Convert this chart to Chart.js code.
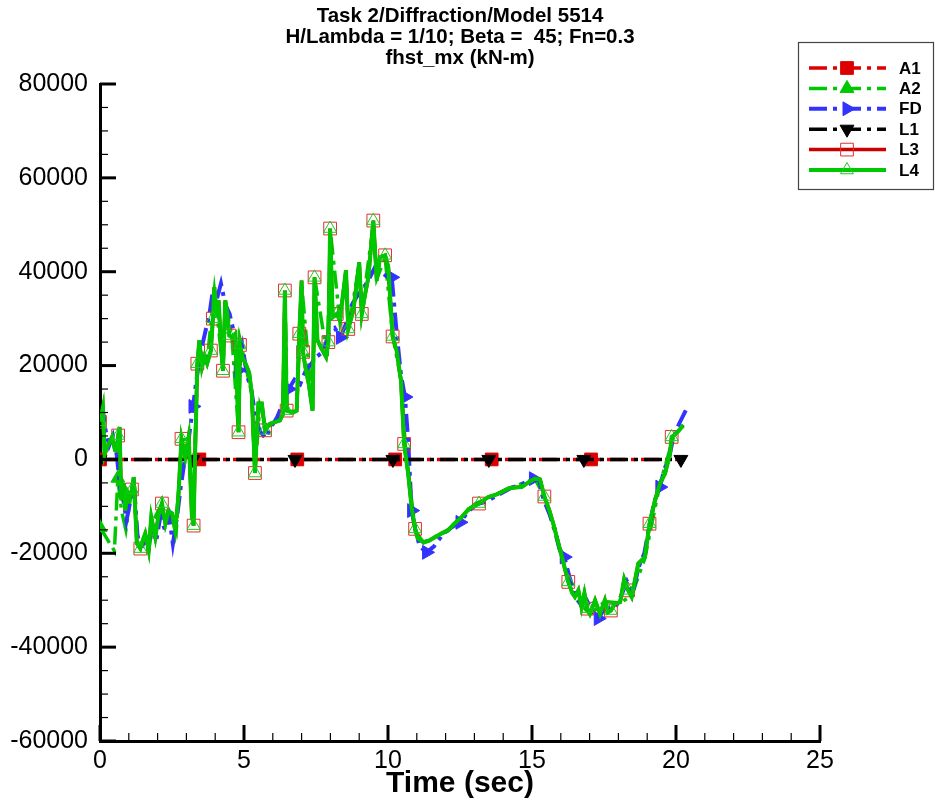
<!DOCTYPE html>
<html>
<head>
<meta charset="utf-8">
<script src="https://cdn.jsdelivr.net/npm/chart.js"></script>
<style>
  html, body { margin: 0; padding: 0; background: #fff; }
  #wrap { width: 935px; height: 805px; position: relative; }
</style>
</head>
<body>
<div id="wrap"><canvas id="chart"></canvas></div>
<script>
// fhst_mx (kN-m) vs time (sec)

const TITLE_LINES = ['Task 2/Diffraction/Model 5514', 'H/Lambda = 1/10; Beta =  45; Fn=0.3', 'fhst_mx (kN-m)']
const X_TITLE = 'Time (sec)'

const A1_T = [0, 3.45, 6.85, 10.25, 13.6, 17.05, 20.15]
const A1_V = [0, 0, 0, 0, 0, 0, 0]
const A1_MARKS = [0, 3.45, 6.85, 10.25, 13.6, 17.05]

const L1_T = [0, 3.23, 6.77, 10.17, 13.5, 16.8, 20.17]
const L1_V = [0, 0, 0, 0, 0, 0, 0]
const L1_MARKS = [0, 3.23, 6.77, 10.17, 13.5, 16.8, 20.17]

const A2_T = [0, 0.25, 0.5, 0.62, 0.75, 0.9, 1.05, 1.2, 1.3, 1.45, 1.7, 1.85, 2.15, 2.5, 2.65, 2.83, 3.08, 3.22, 3.38, 3.72,
  3.97, 4.27, 4.35, 4.58, 4.81, 4.88, 5.27, 5.38, 5.55, 5.8, 6.35, 6.42, 6.5, 6.83, 7.0, 7.38, 7.47, 7.89, 8.01, 8.33,
  8.54, 8.62, 9.0, 9.09, 9.49, 9.61, 9.9, 10.16, 10.45, 10.6, 10.94, 11.23, 12.09, 13.02, 14.18, 15.1, 15.45, 16.03, 16.49, 17.01,
  17.53, 18.06, 18.46, 18.92, 19.44, 19.91, 20.25]
const A2_V = [-14500, -17000, -19500, -4000, -11000, -15000, -8500, -5000, -18000, -19000, -19000, -13000, -9500, -12000, -15000, 4000, 4500, -13500, 20000, 21000,
  36000, 19500, 33500, 26000, 6000, 25000, 14000, -2500, 11500, 6500, 9500, 35500, 10000, 10500, 37500, 10800, 38000, 22000, 48000, 29500,
  40000, 27500, 41500, 31500, 50000, 38500, 43000, 26500, 17000, 3000, -15000, -17800, -15000, -9500, -6200, -4100, -8200, -20800, -29500, -33000,
  -30300, -30600, -29000, -21000, -5300, 4700, 7400]
const A2_MARKS = [0, 0.62]

const FD_T = [0, 0.1, 0.2, 0.32, 0.45, 0.58, 0.7, 0.82, 0.92, 1.05, 1.18, 1.3, 1.42, 1.55, 1.7, 1.82, 1.95, 2.1, 2.25, 2.4,
  2.53, 2.68, 2.8, 2.92, 3.05, 3.23, 3.35, 3.5, 3.65, 3.8, 3.92, 4.05, 4.2, 4.35, 4.5, 4.65, 4.8, 4.95, 5.1, 5.25,
  5.4, 5.55, 5.75, 5.95, 6.15, 6.35, 6.55, 6.75, 6.95, 7.15, 7.35, 7.55, 7.75, 7.95, 8.15, 8.35, 8.55, 8.75, 8.95, 9.15,
  9.35, 9.55, 9.75, 9.95, 10.13, 10.3, 10.45, 10.59, 10.7, 10.82, 10.95, 11.1, 11.34, 11.6, 11.9, 12.2, 12.5, 12.8, 13.1, 13.4,
  13.7, 14.0, 14.3, 14.6, 14.85, 15.05, 15.25, 15.4, 15.6, 15.8, 15.95, 16.12, 16.3, 16.5, 16.7, 16.9, 17.1, 17.3, 17.5, 17.7,
  17.9, 18.1, 18.3, 18.5, 18.7, 18.9, 19.05, 19.25, 19.44, 19.6, 19.75, 19.9, 20.1, 20.35]
const FD_V = [9500, 10500, 6000, 3000, 5000, 1000, -6000, -9000, -13000, -9000, -6000, -16000, -19500, -17000, -18500, -14000, -17500, -12000, -15000, -12000,
  -18000, -12000, -6000, -1000, 3000, 11300, 17000, 23000, 27000, 31000, 36000, 34000, 37500, 33000, 31000, 27000, 19000, 24000, 18000, 15000,
  9000, 6000, 4500, 7000, 9000, 12000, 15000, 17000, 16000, 19000, 20500, 22000, 23000, 27000, 28000, 26000, 29000, 33000, 35000, 36500,
  38500, 41000, 40000, 39000, 38800, 27000, 18000, 13300, 4000, -10900, -15000, -18500, -19800, -18500, -16000, -14500, -13400, -11000, -9500, -9000,
  -8000, -7000, -6000, -5500, -4500, -4100, -4500, -8500, -11500, -15000, -19000, -20800, -25000, -29000, -31000, -30000, -32500, -33900, -32000, -31500,
  -31500, -29000, -26000, -28500, -23000, -20000, -15000, -9000, -5900, -2000, 0, 4500, 7500, 10600]
const FD_MARKS = [3.23, 4.8, 6.55, 8.35, 10.13, 10.59, 10.82, 11.34, 12.5, 15.05, 16.12, 17.3, 19.44]

const L4_T = [0, 0.1, 0.16, 0.24, 0.32, 0.42, 0.52, 0.58, 0.63, 0.68, 0.74, 0.82, 0.88, 0.96, 1.04, 1.11, 1.17, 1.28, 1.4, 1.5,
  1.57, 1.69, 1.78, 1.92, 2.03, 2.15, 2.27, 2.38, 2.5, 2.61, 2.72, 2.83, 2.96, 3.08, 3.19, 3.25, 3.3, 3.38, 3.45, 3.54,
  3.63, 3.72, 3.85, 3.92, 3.97, 4.06, 4.12, 4.2, 4.27, 4.35, 4.42, 4.49, 4.58, 4.7, 4.81, 4.86, 4.94, 5.05, 5.18, 5.27,
  5.38, 5.5, 5.62, 5.73, 5.9, 6.1, 6.25, 6.35, 6.42, 6.48, 6.7, 6.83, 6.92, 7.0, 7.05, 7.12, 7.25, 7.38, 7.45, 7.55,
  7.7, 7.85, 7.93, 7.99, 8.08, 8.22, 8.33, 8.54, 8.62, 8.8, 9.0, 9.09, 9.2, 9.32, 9.49, 9.61, 9.72, 9.9, 10.01, 10.16,
  10.3, 10.45, 10.56, 10.7, 10.82, 10.94, 11.03, 11.23, 11.4, 11.63, 11.85, 12.09, 12.3, 12.56, 12.8, 13.02, 13.16, 13.48, 13.8, 14.18,
  14.4, 14.64, 14.9, 15.1, 15.28, 15.43, 15.6, 15.74, 15.9, 16.03, 16.15, 16.26, 16.4, 16.49, 16.61, 16.72, 16.82, 16.92, 17.01, 17.19,
  17.36, 17.53, 17.63, 17.74, 17.88, 18.06, 18.2, 18.34, 18.46, 18.69, 18.92, 19.08, 19.27, 19.44, 19.62, 19.79, 19.85, 19.95, 20.1, 20.25]
const L4_V = [8000, 11000, 1000, 2500, 3500, 4800, 2000, 1900, 5100, 6900, -8700, -5100, -10900, -7000, -8000, -6400, -3800, -17900, -19000, -17000,
  -15800, -19400, -12300, -16600, -12000, -9400, -13700, -11000, -11500, -15100, -8000, 4400, 500, 4800, -12000, -14100, 500, 20400, 25400, 19700,
  22000, 20400, 23200, 30000, 36700, 30300, 33900, 24000, 18900, 33900, 31000, 26400, 26100, 26800, 5800, 24400, 21800, 20500, 18500, 14000,
  -2900, 11900, 11900, 6200, 7600, 8000, 8300, 9700, 36000, 10400, 10000, 10400, 26800, 38100, 22900, 20000, 16000, 10400, 38800, 25400,
  23500, 21800, 25000, 49200, 30300, 31000, 29600, 40300, 27800, 31800, 42000, 31000, 35000, 38800, 50900, 38100, 43100, 43500, 41000, 26200,
  23200, 16800, 3300, -3000, -10200, -14800, -16800, -17600, -17400, -16600, -15800, -15100, -13700, -12300, -10600, -9800, -9400, -8000, -7400, -6200,
  -6000, -5900, -4800, -4100, -4300, -7900, -10800, -13700, -17500, -20500, -23500, -26100, -28500, -29300, -27900, -31500, -28500, -31800, -32900, -30000,
  -32900, -30000, -32600, -32200, -30700, -30400, -25500, -27900, -29300, -22200, -20800, -13700, -8700, -5200, -3000, 1200, 4800, 5200, 6200, 7200]
const L4_MARKS = [0, 0.63, 1.11, 1.4, 2.15, 2.83, 3.25, 3.38, 3.85, 3.92, 4.27, 4.49, 4.81, 4.86, 5.38, 5.73, 6.42, 6.48, 6.92, 7.05,
  7.45, 7.93, 7.99, 8.22, 8.62, 9.09, 9.49, 9.9, 10.16, 10.56, 10.94, 13.16, 15.43, 16.26, 16.92, 17.74, 18.34, 19.08, 19.85]

// L3 lies under L4 everywhere in the picture
const L3_T = L4_T
const L3_V = L4_V
const L3_MARKS = L4_MARKS

const DASHDOT = [18, 6, 4, 6]
const FONT = "'Liberation Sans', Arial, Helvetica, sans-serif"

function pts(ts, vs) {
  return ts.map((t, i) => ({ x: t, y: vs[i] }))
}

function marks(list, r) {
  return ctx => (ctx.raw && list.includes(ctx.raw.x)) ? r : 0
}

function series(label, ts, vs, mk, o) {
  return Object.assign({
    label: label,
    data: pts(ts, vs),
    showLine: true,
    fill: false,
    tension: 0,
    pointRadius: marks(mk, o.r),
    pointHoverRadius: 0,
    pointBorderWidth: o.pbw,
    pointBackgroundColor: o.pfill,
    pointBorderColor: o.pstroke,
    pointStyle: o.ps,
    pointRotation: o.rot || 0
  }, o.extra)
}

const datasets = [
  series('A1', A1_T, A1_V, A1_MARKS, { r: 9, pbw: 1, pfill: '#dd0000', pstroke: '#dd0000', ps: 'rect',
    extra: { borderColor: '#dd0000', borderWidth: 3.5, borderDash: DASHDOT, borderDashOffset: 3, order: 5 } }),
  series('A2', A2_T, A2_V, A2_MARKS, { r: 8, pbw: 1, pfill: '#00c800', pstroke: '#00c800', ps: 'triangle',
    extra: { borderColor: '#00c800', borderWidth: 3.5, borderDash: DASHDOT, order: 4 } }),
  series('FD', FD_T, FD_V, FD_MARKS, { r: 8, pbw: 1, pfill: '#3333ff', pstroke: '#3333ff', ps: 'triangle', rot: 90,
    extra: { borderColor: '#3333ff', borderWidth: 4, borderDash: DASHDOT, order: 3 } }),
  series('L1', L1_T, L1_V, L1_MARKS, { r: 8, pbw: 1, pfill: '#000000', pstroke: '#000000', ps: 'triangle', rot: 180,
    extra: { borderColor: '#000000', borderWidth: 3.5, borderDash: DASHDOT, order: 2 } }),
  series('L3', L3_T, L3_V, L3_MARKS, { r: 9, pbw: 1, pfill: 'rgba(0,0,0,0)', pstroke: '#e03030', ps: 'rect',
    extra: { borderColor: '#cc0000', borderWidth: 3.5, order: 1 } }),
  series('L4', L4_T, L4_V, L4_MARKS, { r: 7.5, pbw: 1, pfill: 'rgba(0,0,0,0)', pstroke: '#20c820', ps: 'triangle',
    extra: { borderColor: '#00c800', borderWidth: 4, order: 0 } })
]

function drawMark(c, ds, x, y) {
  const r = ds.pointRadius({ raw: { x: ds.data[0].x } }) || 8
  c.save()
  c.setLineDash([])
  c.fillStyle = ds.pointBackgroundColor
  c.strokeStyle = ds.pointBorderColor
  c.lineWidth = ds.pointBorderWidth
  Chart.helpers.drawPoint(c, { pointStyle: ds.pointStyle, rotation: ds.pointRotation, radius: r, borderWidth: ds.pointBorderWidth }, x, y)
  c.restore()
}

const decor = {
  id: 'decor',
  afterDraw(chart) {
    const c = chart.ctx
    const xs = chart.scales.x, ys = chart.scales.y
    const a = chart.chartArea
    c.save()

    // inward tick marks
    c.strokeStyle = '#000'
    c.setLineDash([])
    for (let t = 0; t <= 25; t++) {
      const px = xs.getPixelForValue(t)
      const major = t % 5 === 0
      c.lineWidth = major ? 3 : 1.2
      c.beginPath()
      c.moveTo(px, a.bottom)
      c.lineTo(px, a.bottom - (major ? 16 : 8))
      c.stroke()
    }
    for (let v = -60000; v <= 80000; v += 5000) {
      const py = ys.getPixelForValue(v)
      const major = v % 20000 === 0
      c.lineWidth = major ? 3 : 1.2
      c.beginPath()
      c.moveTo(a.left, py)
      c.lineTo(a.left + (major ? 16 : 8), py)
      c.stroke()
    }

    // title
    c.fillStyle = '#000'
    c.textAlign = 'center'
    c.textBaseline = 'middle'
    c.font = 'bold 20.5px ' + FONT
    TITLE_LINES.forEach((s, i) => c.fillText(s, 460, 16 + i * 21))

    // axis title
    c.font = 'bold 30px ' + FONT
    c.fillText(X_TITLE, (a.left + a.right) / 2, 784)

    // legend
    c.fillStyle = '#fff'
    c.fillRect(798.5, 42.5, 135, 147)
    c.strokeStyle = '#444'
    c.lineWidth = 1.2
    c.strokeRect(798.5, 42.5, 135, 147)
    chart.data.datasets.forEach((ds, i) => {
      const y = 68 + i * 20.4
      c.save()
      c.strokeStyle = ds.borderColor
      c.lineWidth = ds.borderWidth
      c.setLineDash(ds.borderDash || [])
      c.beginPath()
      c.moveTo(809, y)
      c.lineTo(886, y)
      c.stroke()
      c.restore()
      drawMark(c, ds, 847, y)
      c.fillStyle = '#000'
      c.textAlign = 'left'
      c.font = 'bold 17px ' + FONT
      c.fillText(ds.label, 899, y + 1)
    })
    c.restore()
  }
}

new Chart(document.getElementById('chart'), {
  type: 'scatter',
  data: { datasets: datasets },
  plugins: [decor],
  options: {
    responsive: true,
    maintainAspectRatio: false,
    animation: false,
    events: [],
    layout: { padding: { top: 84, right: 115, left: 0, bottom: 0 } },
    plugins: { legend: { display: false }, tooltip: { enabled: false }, title: { display: false } },
    scales: {
      x: {
        type: 'linear', min: 0, max: 25,
        grid: { display: false, drawTicks: false },
        border: { display: true, color: '#000', width: 3 },
        ticks: { stepSize: 5, padding: 5, color: '#000', font: { family: FONT, size: 25 }, callback: v => String(v) },
        afterFit(s) { s.height = 64 }
      },
      y: {
        type: 'linear', min: -60000, max: 80000,
        grid: { display: false, drawTicks: false },
        border: { display: true, color: '#000', width: 3 },
        ticks: { stepSize: 20000, padding: 12, color: '#000', font: { family: FONT, size: 25 }, callback: v => String(v) },
        afterFit(s) { s.width = 100 }
      }
    }
  }
})
</script>
</body>
</html>
